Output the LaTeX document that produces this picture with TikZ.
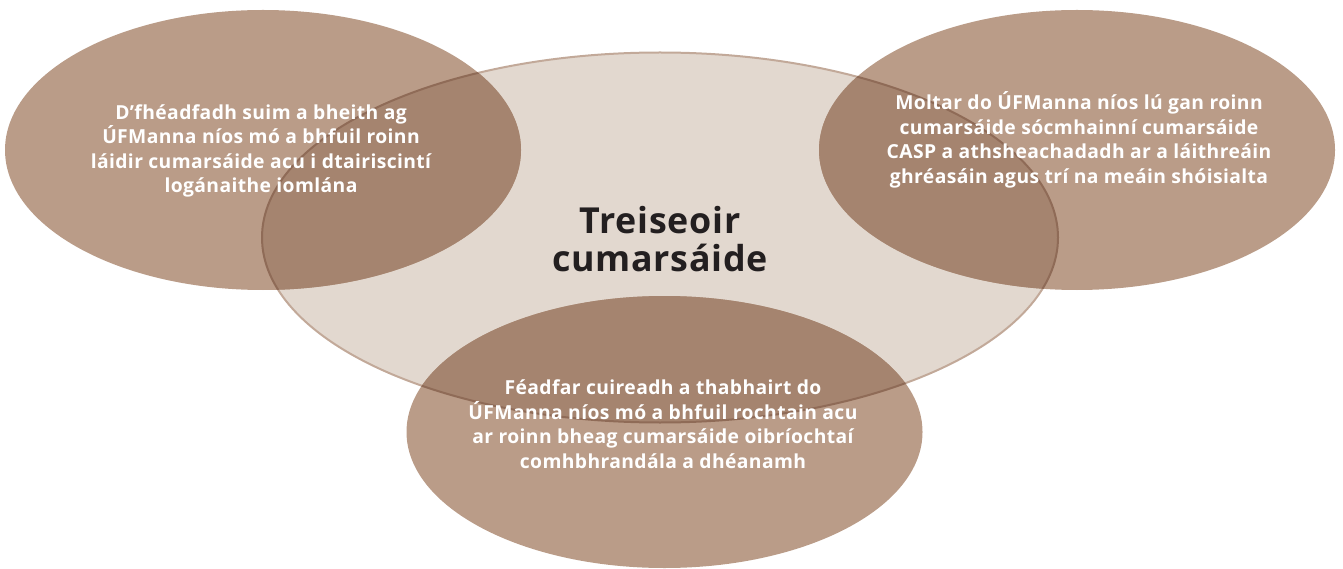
\documentclass[tikz,border=0pt]{standalone}
\usepackage{fontspec}
\setmainfont{Open Sans}[LetterSpace=2]
\definecolor{centralfill}{HTML}{E2D8CF}
\definecolor{centralline}{HTML}{C2A999}
\definecolor{smallfill}{HTML}{BA9C88}
\definecolor{overlapfill}{HTML}{A5846F}
\definecolor{overlapline}{HTML}{8F6B57}
\definecolor{titlecol}{HTML}{231F20}
\tikzset{
  bubbletext/.style={text=white, align=center, inner sep=0pt,
    font=\bfseries\fontsize{19.3}{24.5}\selectfont},
  titletext/.style={text=titlecol, align=center, inner sep=0pt,
    font=\bfseries\fontsize{35.8}{38}\selectfont},
}
\begin{document}
\begin{tikzpicture}[x=1pt,y=-1pt]
\useasboundingbox (0,0) rectangle (1343,569);
\def\centralE{(660,237.5) ellipse [x radius=398, y radius=185]}
\def\leftE{(263,150) ellipse [x radius=258, y radius=140]}
\def\rightE{(1077,150) ellipse [x radius=258, y radius=140]}
\def\bottomE{(664.5,432) ellipse [x radius=258, y radius=136]}
% central ellipse
\fill[centralfill] \centralE;
\draw[centralline, line width=2pt] \centralE;
% small ellipses
\fill[smallfill] \leftE;
\fill[smallfill] \rightE;
\fill[smallfill] \bottomE;
% overlaps
\begin{scope}
  \clip \leftE;
  \fill[overlapfill] \centralE;
  \draw[overlapline, line width=2pt] \centralE;
\end{scope}
\begin{scope}
  \clip \rightE;
  \fill[overlapfill] \centralE;
  \draw[overlapline, line width=2pt] \centralE;
\end{scope}
\begin{scope}
  \clip \bottomE;
  \fill[overlapfill] \centralE;
  \draw[overlapline, line width=2pt] \centralE;
\end{scope}
% texts
\node[titletext] (title) at (660,239) {Treiseoir\\cumarsáide};
\node[bubbletext] (lefttext) at (261,151) {D’fhéadfadh suim a bheith ag\\ÚFManna níos mó a bhfuil roinn\\láidir cumarsáide acu i dtairiscintí\\logánaithe iomlána};
\node[bubbletext] (righttext) at (1079,140) {Moltar do ÚFManna níos lú gan roinn\\cumarsáide sócmhainní cumarsáide\\CASP a athsheachadadh ar a láithreáin\\ghréasáin agus trí na meáin shóisialta};
\node[bubbletext] (bottomtext) at (663,424) {Féadfar cuireadh a thabhairt do\\ÚFManna níos mó a bhfuil rochtain acu\\ar roinn bheag cumarsáide oibríochtaí\\comhbhrandála a dhéanamh};
\end{tikzpicture}
\end{document}
